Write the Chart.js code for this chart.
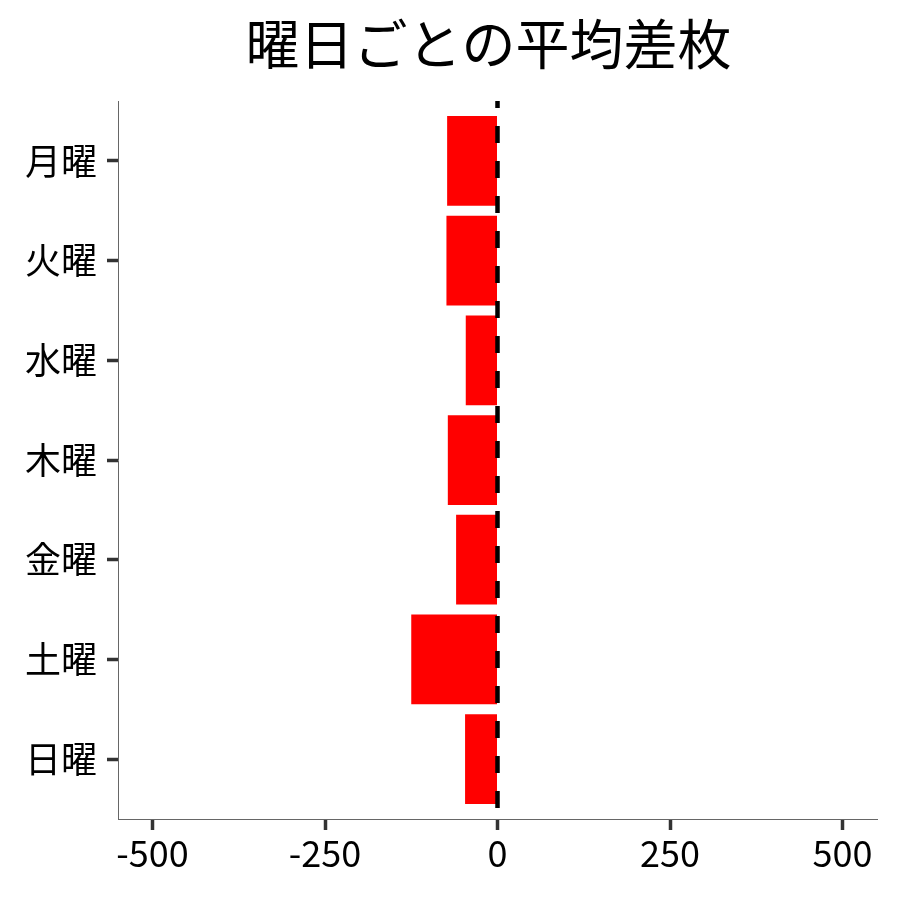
<!DOCTYPE html>
<html>
<head>
<meta charset="utf-8">
<script src="https://cdn.jsdelivr.net/npm/chart.js@4"></script>
<style>
  html, body { margin: 0; padding: 0; background: #fff; }
  #wrap { width: 900px; height: 900px; }
</style>
</head>
<body>
<div id="wrap"><canvas id="chart"></canvas></div>
<script>
// data
const chartTitle = "曜日ごとの平均差枚";
const days = ["月曜", "火曜", "水曜", "木曜", "金曜", "土曜", "日曜"];
const avgDiff = [-73, -74, -46, -72, -60, -125, -47];
const xTicks = [-500, -250, 0, 250, 500];

const FONT = "'Noto Sans CJK JP', 'Noto Sans', sans-serif";

// vertical dashed line at zero, plus the title over the panel
const zeroLine = {
    id: "zeroLine",
    afterDatasetsDraw(chart) {
        const ctx = chart.ctx;
        const area = chart.chartArea;
        const x = chart.scales.x.getPixelForValue(0);
        ctx.save();
        ctx.strokeStyle = "#000";
        ctx.lineWidth = 4.5;
        ctx.setLineDash([17, 18]);
        ctx.lineDashOffset = 10;
        ctx.beginPath();
        ctx.moveTo(x, area.top);
        ctx.lineTo(x, area.bottom);
        ctx.stroke();
        ctx.restore();
    },
    afterDraw(chart) {
        const ctx = chart.ctx;
        const area = chart.chartArea;
        ctx.save();
        ctx.fillStyle = "#000";
        ctx.font = "54px " + FONT;
        ctx.textAlign = "center";
        ctx.textBaseline = "middle";
        ctx.fillText(chartTitle, (area.left + area.right) / 2 - 9, 44);
        ctx.restore();
    }
};

new Chart(document.getElementById("chart"), {
    type: "bar",
    data: {
        datasets: [{
            data: avgDiff.map((v, i) => ({ x: v, y: i })),
            backgroundColor: "#ff0000",
            borderWidth: 0,
            barPercentage: 0.9,
            categoryPercentage: 1
        }]
    },
    options: {
        indexAxis: "y",
        animation: false,
        responsive: true,
        maintainAspectRatio: false,
        layout: { padding: { top: 101, right: 23, left: 0, bottom: 0 } },
        plugins: {
            legend: { display: false },
            tooltip: { enabled: false }
        },
        scales: {
            x: {
                type: "linear",
                min: -550,
                max: 550,
                afterBuildTicks: (s) => { s.ticks = xTicks.map(v => ({ value: v })); },
                afterFit: (s) => { s.height = 81; },
                grid: {
                    drawOnChartArea: false,
                    drawTicks: true,
                    tickLength: 11,
                    tickWidth: 3.5,
                    tickColor: "#333"
                },
                border: { display: true, color: "#666", width: 1 },
                ticks: {
                    color: "#000",
                    padding: 2,
                    font: { family: FONT, size: 36 }
                }
            },
            y: {
                type: "linear",
                reverse: true,
                offset: false,
                min: -0.6,
                max: 6.6,
                afterBuildTicks: (s) => { s.ticks = days.map((d, i) => ({ value: i })); },
                afterFit: (s) => { s.width = 118; },
                grid: {
                    offset: false,
                    drawOnChartArea: false,
                    drawTicks: true,
                    tickLength: 11,
                    tickWidth: 3.5,
                    tickColor: "#333"
                },
                border: { display: true, color: "#666", width: 1 },
                ticks: {
                    color: "#000",
                    padding: 10,
                    font: { family: FONT, size: 36 },
                    callback: (v) => days[v]
                }
            }
        }
    },
    plugins: [zeroLine]
});
</script>
</body>
</html>
